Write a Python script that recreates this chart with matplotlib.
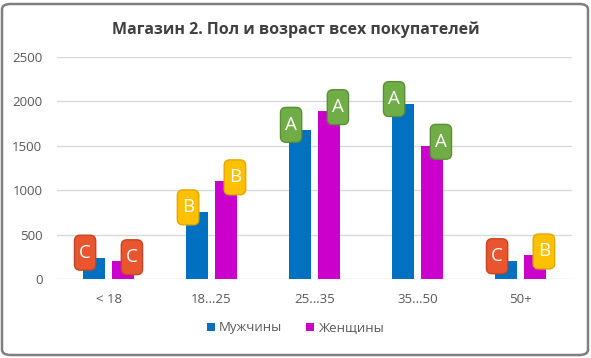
import matplotlib.pyplot as plt
import numpy as np
from matplotlib.patches import FancyBboxPatch, BoxStyle

plt.rcParams['font.family'] = ['Open Sans', 'DejaVu Sans']

categories = ['< 18', '18…25', '25…35', '35…50', '50+']
men = [240, 750, 1680, 1970, 200]
women = [200, 1100, 1890, 1500, 265]
men_grade = ['C', 'B', 'A', 'A', 'C']
women_grade = ['C', 'B', 'A', 'A', 'B']

grade_face = {'A': '#70AD47', 'B': '#FFC000', 'C': '#E8552E'}
grade_edge = {'A': '#5A8F38', 'B': '#E0A800', 'C': '#C8441F'}

fig = plt.figure(figsize=(5.91, 3.58), dpi=100)
fig.patch.set_facecolor('white')
frame = FancyBboxPatch((2 / 591, 3 / 358), 586 / 591, 351 / 358,
                       boxstyle='round,pad=0,rounding_size=0.015',
                       transform=fig.transFigure, facecolor='none',
                       edgecolor='#7F7F7F', linewidth=1.8)
fig.patches.append(frame)

ax = fig.add_axes([57 / 591, 1 - 279 / 358, 515 / 591, 222 / 358])
x = np.arange(len(categories))
w = 0.22
off = 0.14
ax.bar(x - off, men, w, color='#0070C0', label='Мужчины', zorder=3)
ax.bar(x + off, women, w, color='#CC00CC', label='Женщины', zorder=3)

# tall rounded tag, like the Excel data labels
_round = BoxStyle.Round(pad=0.25, rounding_size=0.3)
def tall_box(x0, y0, width, height, mutation_size):
    extra = 0.2 * mutation_size
    return _round(x0, y0 - extra, width, height + 2 * extra, mutation_size)

def tag(xv, yv, g, dx, dy):
    ax.annotate(g, (xv, yv), xytext=(dx, dy), textcoords='offset pixels',
                ha='center', va='center', fontsize=13.5, color='white', zorder=5,
                bbox=dict(boxstyle=tall_box, fc=grade_face[g], ec=grade_edge[g], lw=1))

for i in range(len(categories)):
    tag(x[i] - off, men[i], men_grade[i], -9, 5)
    tag(x[i] + off, women[i], women_grade[i], 9, 4)

ax.set_xlim(-0.5, len(categories) - 0.5)
ax.set_ylim(0, 2500)
ax.set_yticks(range(0, 2501, 500))
ax.set_xticks(x)
ax.set_xticklabels(categories)
ax.tick_params(length=0, labelsize=9.5, colors='#595959', pad=10)
ax.tick_params(axis='y', pad=10.5)
ax.grid(axis='y', color='#D9D9D9', linewidth=1, zorder=0)
for s in ax.spines.values():
    s.set_visible(False)

fig.text(0.5, 1 - 30 / 358, 'Магазин 2. Пол и возраст всех покупателей',
         ha='center', va='center', fontsize=11.5, fontweight='bold', color='#404040')
fig.legend(loc='center', bbox_to_anchor=(0.5, 1 - 328 / 358), ncol=2, frameon=False,
           fontsize=9.5, handlelength=0.6, handleheight=0.6, handletextpad=0.3,
           columnspacing=1.8, labelcolor='#595959')

fig.savefig('out.png', dpi=100)
